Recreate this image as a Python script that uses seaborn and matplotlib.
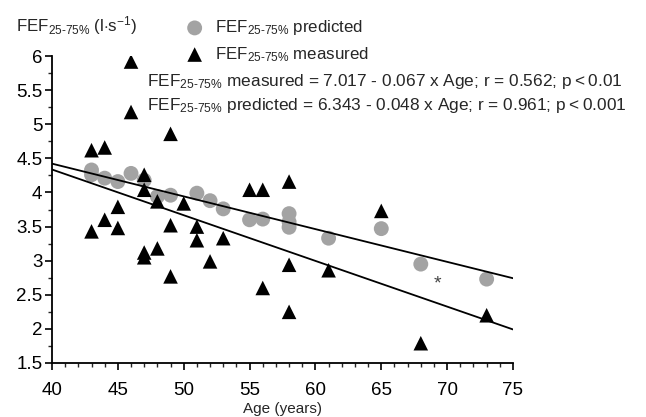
import numpy as np
import pandas as pd
import matplotlib
matplotlib.use("Agg")
import matplotlib.pyplot as plt
import seaborn as sns

# ------------------------------------------------------------
# data
# ------------------------------------------------------------
pred_age = [43, 43, 44, 45, 46, 47, 48, 49, 51, 52, 53, 55, 56, 58, 58, 58, 61, 65, 68, 73]
pred_fef = [4.33, 4.26, 4.21, 4.16, 4.28, 4.18, 3.94, 3.96, 3.99, 3.88, 3.76, 3.60, 3.61,
            3.69, 3.57, 3.49, 3.33, 3.47, 2.95, 2.73]

meas_age = [43, 43, 44, 44, 45, 45, 46, 46, 47, 47, 47, 47, 48, 48, 49, 49, 49, 50,
            51, 51, 52, 53, 55, 56, 56, 58, 58, 58, 61, 65, 68, 73]
meas_fef = [4.62, 3.43, 4.66, 3.60, 3.79, 3.48, 5.92, 5.18, 4.26, 4.04, 3.12, 3.05,
            3.87, 3.18, 4.86, 3.52, 2.77, 3.84, 3.50, 3.30, 2.99, 3.33, 4.04, 4.04,
            2.60, 4.16, 2.94, 2.25, 2.86, 3.73, 1.79, 2.20]

# regression coefficients (intercept, slope)
meas_fit = (7.017, -0.067)
pred_fit = (6.343, -0.048)
fit_range = [40, 75]

star_age, star_fef = 69.3, 2.66

x_ticks = [40, 45, 50, 55, 60, 65, 70, 75]
y_ticks = [1.5, 2, 2.5, 3, 3.5, 4, 4.5, 5, 5.5, 6]
y_ticklabels = ['1.5', '2', '2.5', '3', '3.5', '4', '4.5', '5', '5.5', '6']

# ------------------------------------------------------------
sns.set_style("ticks")
plt.rcParams['font.family'] = ['Liberation Sans', 'DejaVu Sans']
plt.rcParams['mathtext.fontset'] = 'custom'
plt.rcParams['mathtext.rm'] = 'Liberation Sans'
plt.rcParams['mathtext.it'] = 'Liberation Sans'

fig = plt.figure(figsize=(6.46, 4.17), dpi=100)
ax = fig.add_axes([0.0805, 0.1295, 0.7136, 0.736])

df_pred = pd.DataFrame({'age': pred_age, 'fef': pred_fef})
df_meas = pd.DataFrame({'age': meas_age, 'fef': meas_fef})

sub = 'FEF$_\\text{25-75%}$'
ts = '\u2009'  # thin space around "<"

sns.scatterplot(data=df_pred, x='age', y='fef', ax=ax, color='#a3a3a3', marker='o',
                s=115, edgecolor='none', label=sub + ' predicted', zorder=2)

xs = np.array(fit_range, dtype=float)
for a, b in (meas_fit, pred_fit):
    sns.lineplot(x=xs, y=a + b * xs, ax=ax, color='black', linewidth=1.3, zorder=3)

sns.scatterplot(data=df_meas, x='age', y='fef', ax=ax, color='black', marker='^',
                s=110, edgecolor='none', label=sub + ' measured', zorder=4)

ax.text(star_age, star_fef, '*', fontsize=14, ha='center', va='center', color='#444444')

ax.set_xlim(40, 75)
ax.set_ylim(1.5, 6)
ax.set_xticks(x_ticks)
ax.set_yticks(y_ticks)
ax.set_yticklabels(y_ticklabels)
ax.set_xticks(np.arange(40, 76, 1), minor=True)
ax.set_yticks(np.arange(1.5, 6.01, 0.25), minor=True)
ax.tick_params(axis='both', which='major', labelsize=13.5, length=5, width=1.2,
               direction='out', pad=2, colors='black')
ax.tick_params(axis='both', which='minor', length=3, width=1.0, direction='out')
ax.tick_params(axis='x', pad=9)
for s in ['top', 'right']:
    ax.spines[s].set_visible(False)
for s in ['left', 'bottom']:
    ax.spines[s].set_linewidth(1.3)
    ax.spines[s].set_color('black')

ax.set_xlabel('Age (years)', fontsize=11)
ax.set_ylabel('')
ax.xaxis.set_label_coords(0.5, -0.128)

fig.text(0.025, 0.938, sub + ' (l$\\cdot$s$^\\mathregular{-1}$)', fontsize=12.2, va='center')

ax.legend(loc='upper left', bbox_to_anchor=(0.258, 1.145), frameon=False,
          fontsize=12.2, handletextpad=0.2, labelspacing=0.45, borderaxespad=0,
          markerscale=1.0)

ax.text(0.206, 0.918, sub + ' measured = 7.017 - 0.067 x Age; r = 0.562; p' + ts + '<' + ts + '0.01',
        transform=ax.transAxes, fontsize=12.4, va='center')
ax.text(0.206, 0.84, sub + ' predicted = 6.343 - 0.048 x Age; r = 0.961; p' + ts + '<' + ts + '0.001',
        transform=ax.transAxes, fontsize=12.4, va='center')

fig.savefig('out.png', dpi=100)
